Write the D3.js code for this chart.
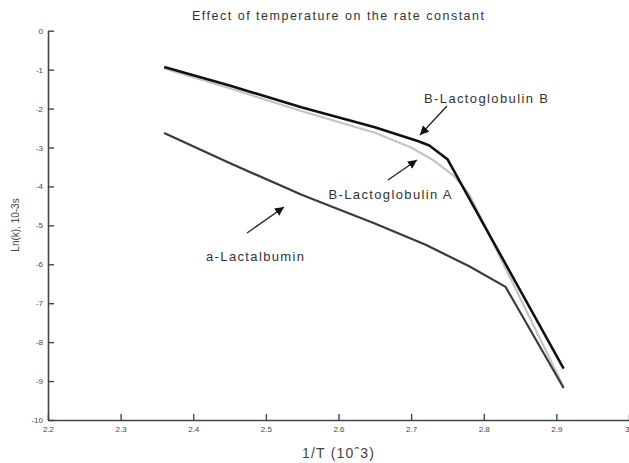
<!DOCTYPE html>
<html>
<head>
<meta charset="utf-8">
<script src="https://cdn.jsdelivr.net/npm/d3@7"></script>
<style>
  body { margin: 0; background: #fff; }
  text { font-family: "Liberation Sans", Arial, sans-serif; }
</style>
</head>
<body>
<svg id="chart" width="629" height="463"></svg>
<script>
// Data: [1/T (10^3), ln(k)]
const betaB = [[2.36, -0.93], [2.45, -1.41], [2.55, -1.97], [2.65, -2.48], [2.71, -2.84], [2.725, -2.95], [2.75, -3.30], [2.91, -8.68]];
const betaA = [[2.36, -0.97], [2.45, -1.48], [2.55, -2.07], [2.65, -2.62], [2.70, -3.00], [2.73, -3.32], [2.76, -3.75], [2.78, -4.20], [2.91, -9.15]];
const alphaLac = [[2.36, -2.63], [2.45, -3.40], [2.55, -4.22], [2.65, -4.95], [2.72, -5.50], [2.78, -6.05], [2.83, -6.58], [2.91, -9.18]];

const xTicks = [2.2, 2.3, 2.4, 2.5, 2.6, 2.7, 2.8, 2.9, 3.0];
const yTicks = [0, -1, -2, -3, -4, -5, -6, -7, -8, -9, -10];

const svg = d3.select("svg#chart");

// Scales

const x = d3.scaleLinear().domain([2.2, 3.0]).range([48, 629]);
const y = d3.scaleLinear().domain([-10, 0]).range([420, 30.7]);

// Axes (ticks point inward)

const xAxis = svg.append("g")
    .attr("transform", `translate(0,${y(-10)})`)
    .call(d3.axisBottom(x)
        .tickValues(xTicks)
        .tickSizeInner(-6)
        .tickSizeOuter(0)
        .tickPadding(6)
        .tickFormat(d => String(+d.toFixed(1))));

const yAxis = svg.append("g")
    .attr("transform", `translate(${x(2.2)},0)`)
    .call(d3.axisLeft(y)
        .tickValues(yTicks)
        .tickSizeInner(-6)
        .tickSizeOuter(0)
        .tickPadding(5)
        .tickFormat(d => String(d)));

[xAxis, yAxis].forEach(g => {
    g.select(".domain").attr("stroke", "#444").attr("stroke-width", 1.6);
    g.selectAll(".tick line").attr("stroke", "#444").attr("stroke-width", 1.4);
    g.selectAll(".tick text")
        .style("font-family", "Liberation Sans, Arial, sans-serif")
        .style("font-size", "8px")
        .attr("fill", "#444");
});

// last x label sits on the right edge, as in the original
xAxis.selectAll(".tick text")
    .filter(d => d === 3.0)
    .attr("text-anchor", "end");

// Titles

svg.append("text")
    .attr("x", 338)
    .attr("y", 20)
    .attr("text-anchor", "middle")
    .attr("textLength", 292)
    .attr("lengthAdjust", "spacing")
    .style("font-size", "12.5px")
    .attr("fill", "#333")
    .text("Effect of temperature on the rate constant");

svg.append("text")
    .attr("x", 338)
    .attr("y", 458)
    .attr("text-anchor", "middle")
    .attr("textLength", 72)
    .style("font-size", "14px")
    .attr("fill", "#444")
    .text("1/T (10ˆ3)");

svg.append("text")
    .attr("transform", "translate(19,225) rotate(-90)")
    .attr("text-anchor", "middle")
    .style("font-size", "10px")
    .attr("fill", "#444")
    .text("Ln(k), 10-3s");

// Lines

const line = d3.line()
    .x(d => x(d[0]))
    .y(d => y(d[1]));

const series = [
    { name: "B-Lactoglobulin A", values: betaA, color: "#c4c4c4", width: 2.2 },
    { name: "a-Lactalbumin", values: alphaLac, color: "#3a3a3a", width: 2.2 },
    { name: "B-Lactoglobulin B", values: betaB, color: "#111", width: 2.6 }
];

series.forEach(s => {
    svg.append("path")
        .datum(s.values)
        .attr("fill", "none")
        .attr("stroke", s.color)
        .attr("stroke-width", s.width)
        .attr("stroke-linejoin", "round")
        .attr("d", line);
});

// Annotations with arrows

svg.append("defs").append("marker")
    .attr("id", "head")
    .attr("viewBox", "0 0 10 10")
    .attr("refX", 10)
    .attr("refY", 5)
    .attr("markerWidth", 9)
    .attr("markerHeight", 9)
    .attr("markerUnits", "userSpaceOnUse")
    .attr("orient", "auto")
    .append("path")
    .attr("d", "M0,0L10,5L0,10Z")
    .attr("fill", "#111");

const notes = [
    { text: "B-Lactoglobulin B", tx: 486, ty: 103, len: 124, from: [447, 106], to: [420, 135] },
    { text: "B-Lactoglobulin A", tx: 390, ty: 199, len: 123, from: [388, 180], to: [417, 160] },
    { text: "a-Lactalbumin", tx: 255, ty: 261, len: 98, from: [247, 233], to: [284, 207] }
];

notes.forEach(n => {
    svg.append("text")
        .attr("x", n.tx)
        .attr("y", n.ty)
        .attr("text-anchor", "middle")
        .attr("textLength", n.len)
        .style("font-size", "13px")
        .attr("fill", "#333")
        .text(n.text);
    svg.append("line")
        .attr("x1", n.from[0]).attr("y1", n.from[1])
        .attr("x2", n.to[0]).attr("y2", n.to[1])
        .attr("stroke", "#222")
        .attr("stroke-width", 1.3)
        .attr("marker-end", "url(#head)");
});
</script>
</body>
</html>
